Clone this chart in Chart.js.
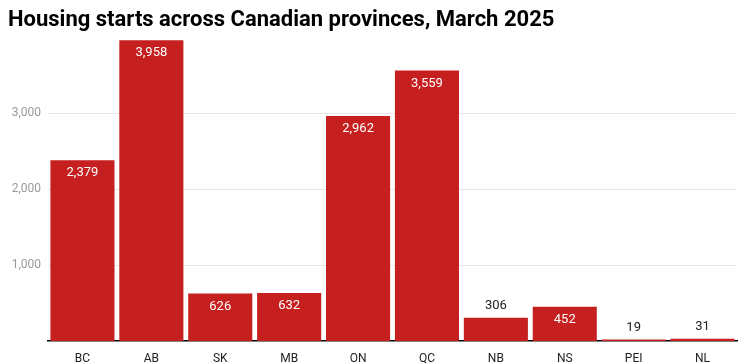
<!DOCTYPE html>
<html>
<head>
<meta charset="utf-8">
<script src="https://cdn.jsdelivr.net/npm/chart.js@4"></script>
<style>
  body { margin: 0; background: #fff; }
  #wrap { width: 749px; height: 364px; }
</style>
</head>
<body>
<div id="wrap"><canvas id="starts"></canvas></div>
<script>
// data
var provinces = ['BC', 'AB', 'SK', 'MB', 'ON', 'QC', 'NB', 'NS', 'PEI', 'NL'];
var starts = [2379, 3958, 626, 632, 2962, 3559, 306, 452, 19, 31];
var yTicks = [1000, 2000, 3000];

var titleText = 'Housing starts across Canadian provinces, March 2025';

// title + bar value labels
var labelsPlugin = {
  id: 'labelsPlugin',
  afterDatasetsDraw: function(chart) {
    var ctx = chart.ctx;
    ctx.save();
    ctx.font = 'bold 22px Roboto';
    ctx.fillStyle = '#000';
    ctx.textAlign = 'left';
    ctx.textBaseline = 'alphabetic';
    ctx.fillText(titleText, 8, 26);

    var meta = chart.getDatasetMeta(0);
    ctx.font = '13px Roboto';
    ctx.textAlign = 'center';
    ctx.textBaseline = 'middle';
    meta.data.forEach(function(bar, i) {
      var h = bar.base - bar.y;
      var txt = starts[i].toLocaleString('en-US');
      if (h > 30) {
        ctx.fillStyle = '#fff';
        ctx.fillText(txt, bar.x, bar.y + 13);
      } else {
        ctx.fillStyle = '#222';
        ctx.fillText(txt, bar.x, bar.y - 12);
      }
    });
    ctx.restore();
  }
};

let ctx = document.getElementById('starts');
let chart = new Chart(ctx, {
  type: 'bar',
  data: {
    labels: provinces,
    datasets: [{
      data: starts,
      backgroundColor: '#c51f1f',
      barPercentage: 0.93,
      categoryPercentage: 1
    }]
  },
  options: {
    responsive: true,
    maintainAspectRatio: false,
    animation: false,
    layout: { padding: { top: 37, right: 12, left: 0, bottom: 0 } },
    plugins: {
      legend: { display: false },
      tooltip: { enabled: false }
    },
    scales: {
      x: {
        grid: { display: false },
        border: { color: '#000', width: 1.5 },
        ticks: { color: '#222', font: { family: 'Roboto', size: 12 }, padding: 3 },
        afterFit: function(s) { s.height = 23; }
      },
      y: {
        min: 0,
        max: 4000,
        afterBuildTicks: function(s) {
          s.ticks = yTicks.map(function(v) { return { value: v }; });
        },
        grid: { color: '#e6e6e6', drawTicks: false },
        border: { display: false },
        ticks: {
          color: '#999',
          font: { family: 'Roboto', size: 12 },
          padding: 7,
          callback: function(v) { return v.toLocaleString('en-US'); }
        },
        afterFit: function(s) { s.width = 48; }
      }
    }
  },
  plugins: [labelsPlugin]
});
</script>
</body>
</html>
